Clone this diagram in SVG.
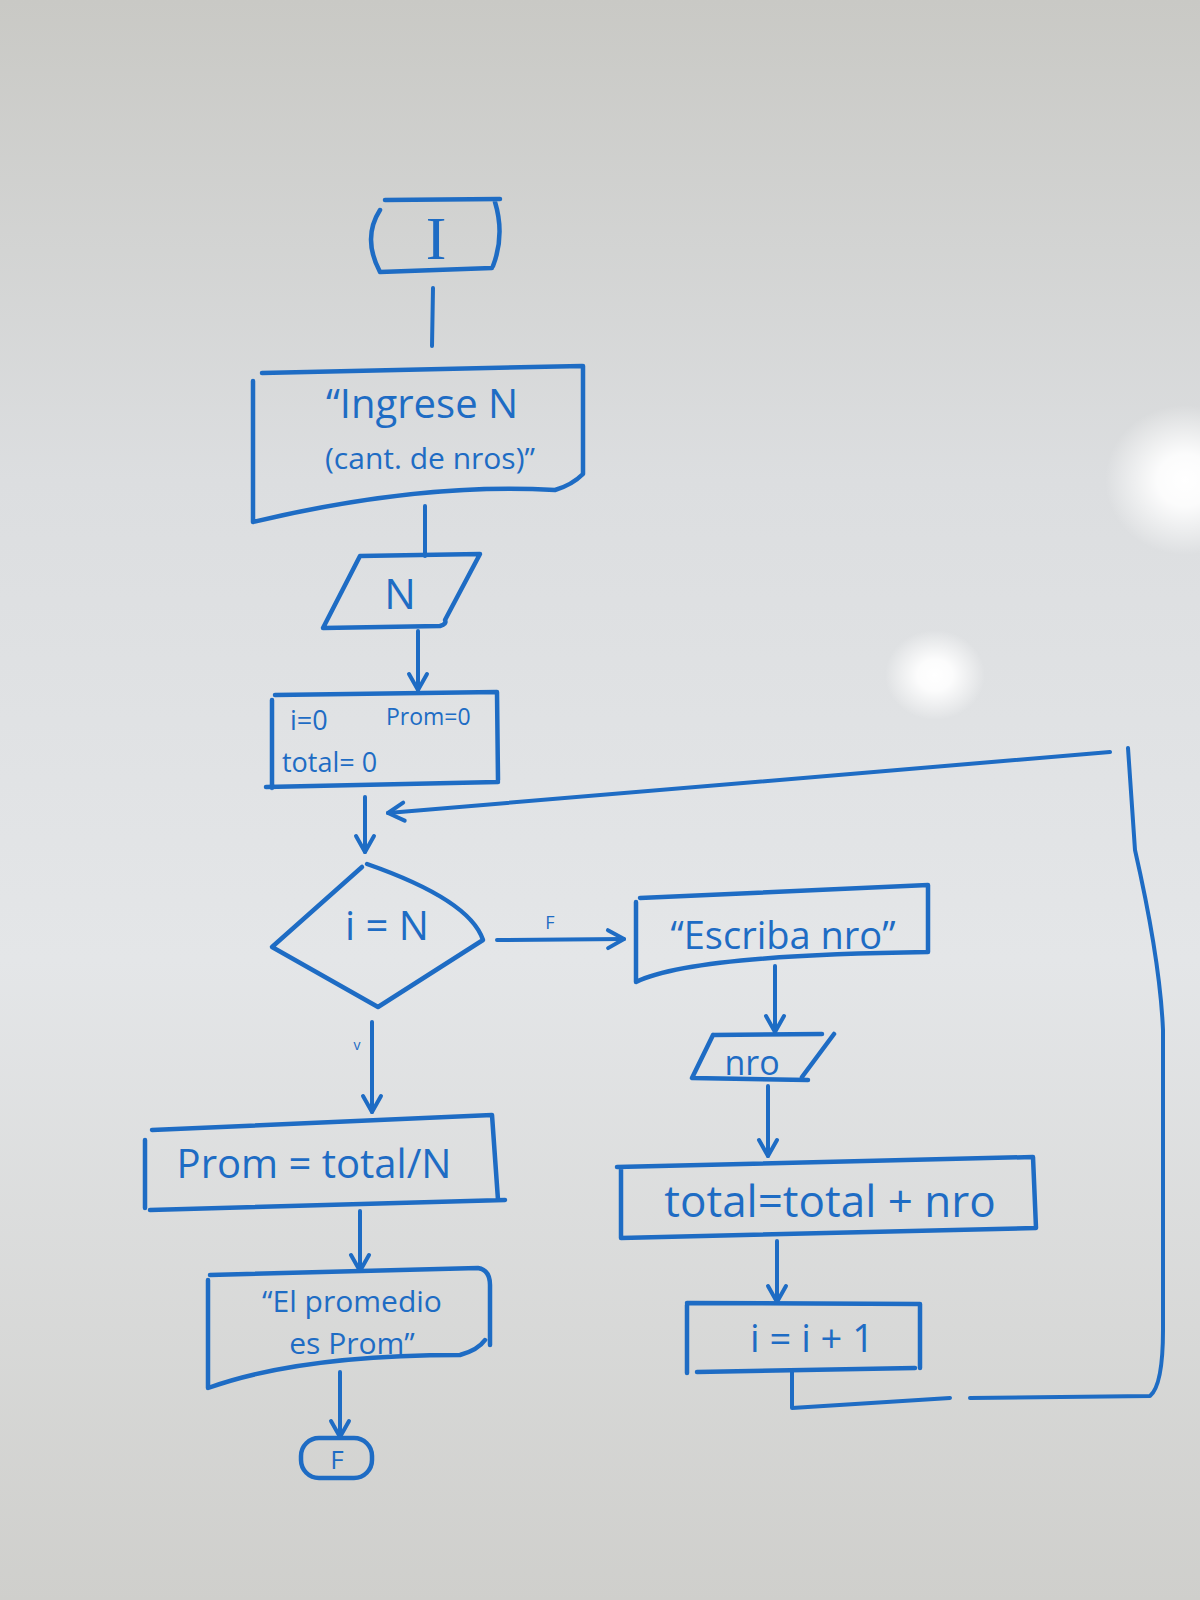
<svg xmlns="http://www.w3.org/2000/svg" width="1200" height="1600" viewBox="0 0 1200 1600">
<defs>
<linearGradient id="bg" x1="0" y1="0" x2="0" y2="1">
<stop offset="0" stop-color="#c9c9c5"/>
<stop offset="0.3" stop-color="#dcdee0"/>
<stop offset="0.6" stop-color="#e4e6e8"/>
<stop offset="1" stop-color="#cfcfcc"/>
</linearGradient>
<radialGradient id="glare" cx="0.5" cy="0.5" r="0.5">
<stop offset="0" stop-color="#ffffff" stop-opacity="1"/>
<stop offset="0.35" stop-color="#ffffff" stop-opacity="0.9"/>
<stop offset="1" stop-color="#ffffff" stop-opacity="0"/>
</radialGradient>
<marker id="arr" viewBox="0 0 24 24" refX="21" refY="12" markerWidth="24" markerHeight="24" markerUnits="userSpaceOnUse" orient="auto">
<path d="M5,3 L21,12 L5,21" fill="none" stroke="#1e6cc4" stroke-width="4" stroke-linecap="round" stroke-linejoin="round"/>
</marker>
</defs>
<style>
.ink{fill:none;stroke:#1e6cc4;stroke-width:4.5;stroke-linecap:round;stroke-linejoin:round}
.t{fill:#1e6cc4;font-family:"Open Sans","Liberation Sans",sans-serif;text-anchor:middle;dominant-baseline:central}
.l{text-anchor:start}
.c{fill:none;stroke:#1e6cc4;stroke-width:4;stroke-linecap:round;stroke-linejoin:round}
.a{marker-end:url(#arr)}
</style>
<rect x="0" y="0" width="1200" height="1600" fill="url(#bg)"/>
<ellipse cx="1185" cy="480" rx="80" ry="75" fill="url(#glare)"/>
<ellipse cx="935" cy="675" rx="50" ry="45" fill="url(#glare)"/>

<g id="connectors">
<path class="c" d="M433,288 L432,346"/>
<path class="c" d="M425,506 L425,556"/>
<path class="c a" d="M418,631 L418,690"/>
<path class="c a" d="M365,797 L365,852"/>
<path class="c a" d="M497,940 L624,939"/>
<text class="t" x="550" y="922" font-size="18">F</text>
<path class="c a" d="M775,966 L775,1032"/>
<path class="c a" d="M768,1086 L768,1156"/>
<path class="c a" d="M777,1241 L777,1302"/>
<path class="c" d="M792,1372 L792,1408 L950,1398"/>
<path class="c" d="M970,1398 L1150,1396 Q1163,1385 1163,1330 L1163,1030 Q1160,960 1135,850 L1128,748"/>
<path class="c a" d="M1110,752 L388,813"/>
<path class="c a" d="M372,1022 L372,1112"/>
<text class="t" x="357" y="1044" font-size="14">v</text>
<path class="c a" d="M360,1211 L360,1271"/>
<path class="c a" d="M340,1372 L340,1437"/>
</g>

<g id="start">
<path class="ink" d="M385,200 L500,199 M380,272 L492,268 M380,210 Q362,238 380,272 M495,202 Q505,235 493,266"/>
<text class="t" x="436" y="238" font-size="62" style="font-family:'Liberation Serif',serif">I</text>
</g>

<g id="msg-ingrese">
<path class="ink" d="M262,373 L582,366 M253,381 L253,522 M583,366 L583,474 Q572,485 555,490 Q420,482 253,522"/>
<text class="t" x="422" y="402" font-size="40">“Ingrese N</text>
<text class="t" x="430" y="457" font-size="30">(cant. de nros)”</text>
</g>

<g id="input-n">
<path class="ink" d="M360,556 L480,554 L445,620 Q447,624 440,626 L323,628 Z"/>
<text class="t" x="400" y="592" font-size="42">N</text>
</g>

<g id="init">
<path class="ink" d="M275,695 L497,692 L498,780 M272,700 L272,788 M266,787 L498,782"/>
<text class="t l" x="290" y="719" font-size="27">i=0</text>
<text class="t l" x="386" y="716" font-size="23">Prom=0</text>
<text class="t l" x="282" y="761" font-size="27">total= 0</text>
</g>

<g id="decision">
<path class="ink" d="M362,867 L272,947 L378,1007 L483,940 Q470,900 367,864"/>
<text class="t" x="387" y="924" font-size="40">i = N</text>
</g>

<g id="msg-escriba">
<path class="ink" d="M640,898 L928,885 L928,952 M636,902 L636,982 Q690,955 928,952"/>
<text class="t" x="783" y="934" font-size="38">“Escriba nro”</text>
</g>

<g id="input-nro">
<path class="ink" d="M713,1035 L822,1034 M834,1034 L802,1077 M713,1035 L692,1078 L808,1080"/>
<text class="t" x="752" y="1062" font-size="34">nro</text>
</g>

<g id="sum">
<path class="ink" d="M617,1167 L1033,1157 L1036,1228 M621,1168 L621,1238 L1036,1228"/>
<text class="t" x="830" y="1200" font-size="44">total=total + nro</text>
</g>

<g id="incr">
<path class="ink" d="M687,1303 L920,1304 L920,1368 M687,1305 L687,1373 M697,1372 L915,1368"/>
<text class="t" x="812" y="1337" font-size="38">i = i + 1</text>
</g>

<g id="prom">
<path class="ink" d="M152,1130 L492,1115 L498,1200 M145,1140 L145,1208 M150,1210 L505,1200"/>
<text class="t" x="314" y="1162" font-size="40">Prom = total/N</text>
</g>

<g id="msg-promedio">
<path class="ink" d="M210,1275 L478,1268 Q490,1270 490,1285 L490,1345 M208,1280 L208,1388 Q300,1355 460,1355 Q478,1350 485,1340"/>
<text class="t" x="352" y="1300" font-size="30">“El promedio</text>
<text class="t" x="352" y="1342" font-size="30">es Prom”</text>
</g>

<g id="end">
<rect class="ink" x="301" y="1438" width="71" height="40" rx="18" ry="18"/>
<text class="t" x="337" y="1459" font-size="26">F</text>
</g>
</svg>
